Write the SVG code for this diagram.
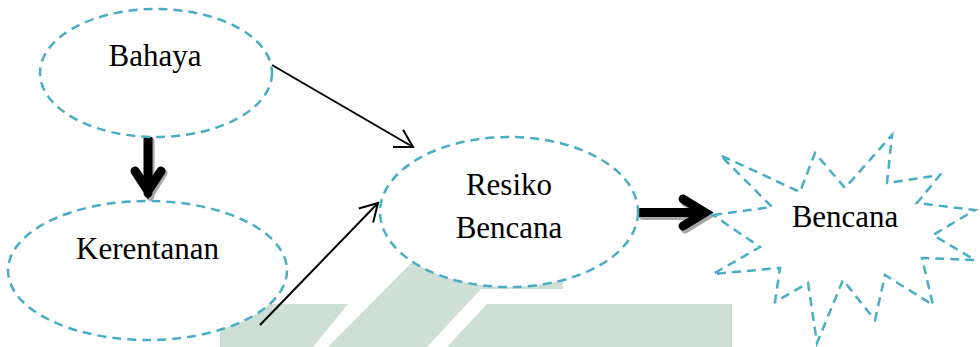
<svg xmlns="http://www.w3.org/2000/svg" width="980" height="347" viewBox="0 0 980 347">
<style>
.node{fill:#ffffff;stroke:#4bacc6;stroke-width:2.5;stroke-dasharray:9 6}
.lbl{font-family:"Liberation Serif","Times New Roman",serif;font-size:31px;fill:#000;text-anchor:middle}
.thin{stroke:#000;stroke-width:2;fill:none;marker-end:url(#open)}
.thick{stroke:#000;stroke-width:9;fill:none;stroke-linecap:round;stroke-linejoin:miter;stroke-miterlimit:10}
.shadow{stroke:#a6a6a6;stroke-width:9;fill:none;stroke-linecap:round;stroke-linejoin:miter;stroke-miterlimit:10}
.wm{fill:#cedfd5}
</style>
<defs>
<marker id="open" markerUnits="userSpaceOnUse" markerWidth="30" markerHeight="30" refX="20" refY="12" orient="auto" overflow="visible">
<path d="M2.7,2 L20,12 L2.7,22" fill="none" stroke="#000" stroke-width="2"/>
</marker>
</defs>
<g id="watermark">
<polygon class="wm" points="220,304 348,304 313,347 220,347"/>
<polygon class="wm" points="440,234 563,234 563,289 481,289 427,347 328,347"/>
<polygon class="wm" points="487,304 732,304 732,347 447,347"/>
</g>
<g id="connectors">
<line class="thin" x1="272" y1="65" x2="413" y2="147"/>
<line class="thin" x1="260" y1="325" x2="378" y2="203"/>
<g id="arrow-bahaya-kerentanan">
<path class="shadow" d="M150,141 V196 M137,173 L150,194 L163,173"/>
<path class="thick" d="M148,139 V193 M135,171 L148,191 L161,171"/>
</g>
<g id="arrow-resiko-bencana">
<path class="shadow" d="M643,215.5 H707 M685,202 L707,215.5 L685,229"/>
<path class="thick" d="M641,212.5 H704 M683,199 L705,212.5 L683,226"/>
</g>
</g>
<g id="node-bahaya">
<ellipse class="node" cx="156" cy="73" rx="116" ry="64"/>
<text class="lbl" x="155" y="66">Bahaya</text>
</g>
<g id="node-kerentanan">
<ellipse class="node" cx="147.5" cy="270.5" rx="139.5" ry="69.5"/>
<text class="lbl" x="147.5" y="259">Kerentanan</text>
</g>
<g id="node-resiko">
<ellipse class="node" cx="509" cy="212" rx="129" ry="75"/>
<text class="lbl" x="509" y="195">Resiko</text>
<text class="lbl" x="509" y="238">Bencana</text>
</g>
<g id="node-bencana">
<polygon class="node" points="713,215 772,207 720,155 800,192 815,153 845,188 892,135 887,183 940,175 917,203 975,210 933,235 975,260 922,258 933,305 885,275 875,320 843,280 817,343 808,283 775,302 780,268 713,274 760,247"/>
<text class="lbl" x="845" y="227">Bencana</text>
</g>
</svg>
